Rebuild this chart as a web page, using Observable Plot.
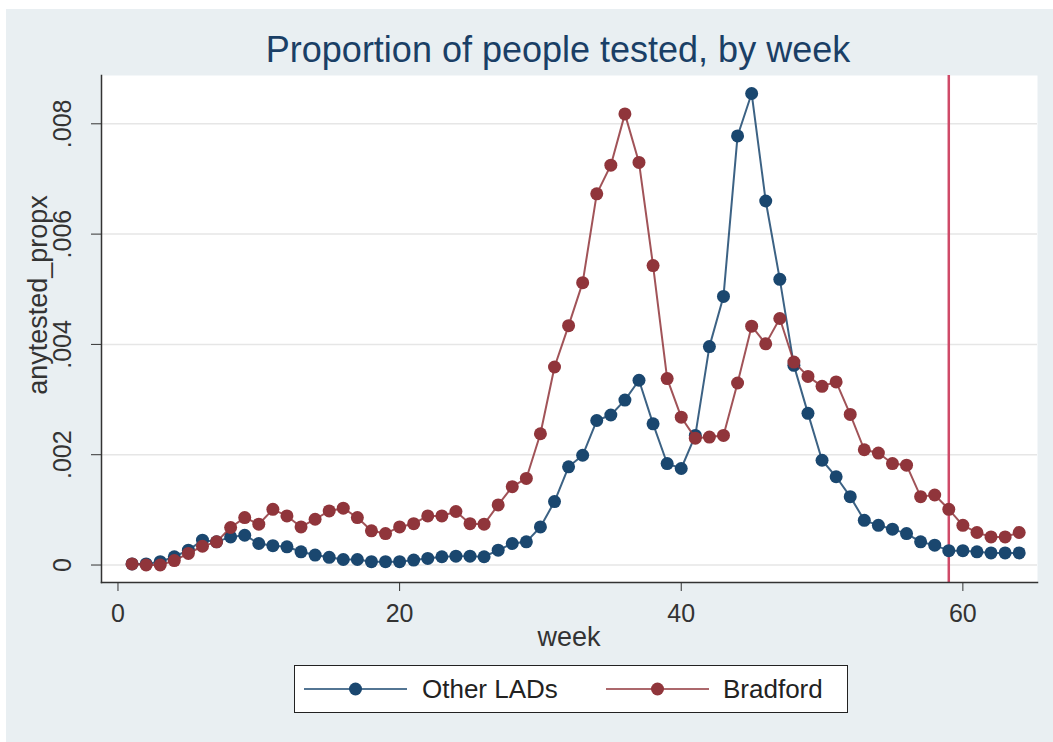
<!DOCTYPE html>
<html><head><meta charset="utf-8">
<script src="https://cdn.jsdelivr.net/npm/d3@7"></script>
<script src="https://cdn.jsdelivr.net/npm/@observablehq/plot@0.6"></script>
<style>
body{margin:0;background:#fff;font-family:"Liberation Sans",Arial,sans-serif;}
#bg{position:absolute;left:6px;top:9px;width:1047px;height:733px;background:#e9eff2;}
#title{position:absolute;left:0;top:32px;width:1116px;text-align:center;font-size:36px;line-height:36px;color:#1a3f66;white-space:nowrap;}
#chart{position:absolute;left:0;top:0;}
#ylab{position:absolute;left:-112px;top:280px;width:300px;height:30px;line-height:30px;text-align:center;font-size:27px;color:#333;transform:rotate(-90deg);}
#xlab{position:absolute;left:469px;top:624px;width:200px;text-align:center;font-size:27px;line-height:27px;color:#333;}
#legend{position:absolute;left:294px;top:665px;width:552px;height:46px;border:1.5px solid #222;background:#fff;}
#legend svg{position:absolute;top:0;}
#legend span{position:absolute;top:0;line-height:46px;font-size:26px;color:#222;white-space:nowrap;}
</style></head><body>
<div id="bg"></div>
<div id="title">Proportion of people tested, by week</div>
<div id="chart"></div>
<div id="ylab">anytested_propx</div>
<div id="xlab">week</div>
<div id="legend"></div>
<script>
const weeks = [1,2,3,4,5,6,7,8,9,10,11,12,13,14,15,16,17,18,19,20,21,22,23,24,25,26,27,28,29,30,31,32,
  33,34,35,36,37,38,39,40,41,42,43,44,45,46,47,48,49,50,51,52,53,54,55,56,57,58,59,60,61,62,63,64];
const otherLADs = [0.00002,0.00002,0.00006,0.00015,0.00027,0.00045,0.00042,0.00051,0.00054,0.00039,
  0.00035,0.00033,0.00024,0.00018,0.00014,0.00010,0.00010,0.00006,0.00006,0.00006,
  0.00009,0.00012,0.00015,0.00016,0.00016,0.00015,0.00027,0.00039,0.00042,0.00069,
  0.00115,0.00178,0.00199,0.00262,0.00272,0.00299,0.00335,0.00256,0.00184,0.00175,
  0.00235,0.00396,0.00487,0.00778,0.00855,0.00660,0.00518,0.00362,0.00275,0.00190,
  0.00160,0.00124,0.00081,0.00072,0.00065,0.00057,0.00042,0.00036,0.00026,0.00026,
  0.00024,0.00022,0.00022,0.00022];
const bradford = [0.00002,0.00000,0.00000,0.00008,0.00021,0.00034,0.00042,0.00068,0.00086,0.00074,
  0.00101,0.00089,0.00069,0.00083,0.00098,0.00103,0.00086,0.00062,0.00057,0.00069,
  0.00075,0.00089,0.00089,0.00097,0.00075,0.00074,0.00109,0.00142,0.00157,0.00238,
  0.00359,0.00434,0.00512,0.00673,0.00725,0.00818,0.00730,0.00543,0.00338,0.00268,
  0.00230,0.00232,0.00235,0.00330,0.00433,0.00401,0.00447,0.00368,0.00342,0.00324,
  0.00332,0.00273,0.00209,0.00203,0.00184,0.00181,0.00124,0.00127,0.00101,0.00072,
  0.00059,0.00051,0.00051,0.00059];
const seriesNames = ["Other LADs", "Bradford"];
const seriesColors = ["#1a476f", "#90353b"];
const xTicks = [0, 20, 40, 60];
const yTicks = [0, 0.002, 0.004, 0.006, 0.008];
const refWeeks = [59];

const rowsOther = weeks.map((w, i) => ({week: w, value: otherLADs[i], series: seriesNames[0]}));
const rowsBrad = weeks.map((w, i) => ({week: w, value: bradford[i], series: seriesNames[1]}));
const fmtY = d => d === 0 ? "0" : d3.format(".3f")(d).replace(/^0/, "");

const chart = Plot.plot({
  width: 1053, height: 660,
  marginLeft: 101, marginRight: 16, marginTop: 75, marginBottom: 78,
  style: {background: "transparent", fontFamily: "Liberation Sans, Arial, sans-serif", fontSize: "25px", color: "#333"},
  x: {domain: [-1.17, 65.3]},
  y: {domain: [-0.000317, 0.008876]},
  marks: [
    Plot.frame({fill: "white", stroke: null}),
    Plot.gridY(yTicks, {stroke: "#e6e6e6", strokeOpacity: 1, strokeWidth: 1.5}),
    Plot.ruleX(refWeeks, {stroke: "#cf4a68", strokeWidth: 2.5}),
    Plot.line(rowsOther, {x: "week", y: "value", stroke: seriesColors[0], strokeWidth: 2, strokeOpacity: 0.85}),
    Plot.dot(rowsOther, {x: "week", y: "value", r: 6.5, fill: seriesColors[0]}),
    Plot.line(rowsBrad, {x: "week", y: "value", stroke: seriesColors[1], strokeWidth: 2, strokeOpacity: 0.85}),
    Plot.dot(rowsBrad, {x: "week", y: "value", r: 6.5, fill: seriesColors[1]}),
    Plot.axisX({ticks: xTicks, tickSize: 9, tickPadding: 13, label: null, fontSize: 25}),
    Plot.axisY({ticks: yTicks, tickSize: 10, tickPadding: 21, tickRotate: -90, tickFormat: fmtY, label: null, fontSize: 25}),
    Plot.frame({anchor: "left", stroke: "#333", strokeWidth: 1.5, strokeOpacity: 1}),
    Plot.frame({anchor: "bottom", stroke: "#333", strokeWidth: 1.5, strokeOpacity: 1})
  ]
});
document.getElementById("chart").appendChild(chart);

// legend
const legend = document.getElementById("legend");
const itemPos = [{sw: 9, tx: 127}, {sw: 311, tx: 428}];
seriesNames.forEach((name, i) => {
  const ns = "http://www.w3.org/2000/svg";
  const svg = document.createElementNS(ns, "svg");
  svg.setAttribute("width", 104); svg.setAttribute("height", 46);
  svg.style.left = itemPos[i].sw + "px";
  const ln = document.createElementNS(ns, "line");
  ln.setAttribute("x1", 0); ln.setAttribute("x2", 103); ln.setAttribute("y1", 23); ln.setAttribute("y2", 23);
  ln.setAttribute("stroke", seriesColors[i]); ln.setAttribute("stroke-width", 2); ln.setAttribute("stroke-opacity", 0.75);
  const c = document.createElementNS(ns, "circle");
  c.setAttribute("cx", 51.5); c.setAttribute("cy", 23); c.setAttribute("r", 6.5); c.setAttribute("fill", seriesColors[i]);
  svg.appendChild(ln); svg.appendChild(c);
  legend.appendChild(svg);
  const sp = document.createElement("span");
  sp.textContent = name; sp.style.left = itemPos[i].tx + "px";
  legend.appendChild(sp);
});
</script>
</body></html>
